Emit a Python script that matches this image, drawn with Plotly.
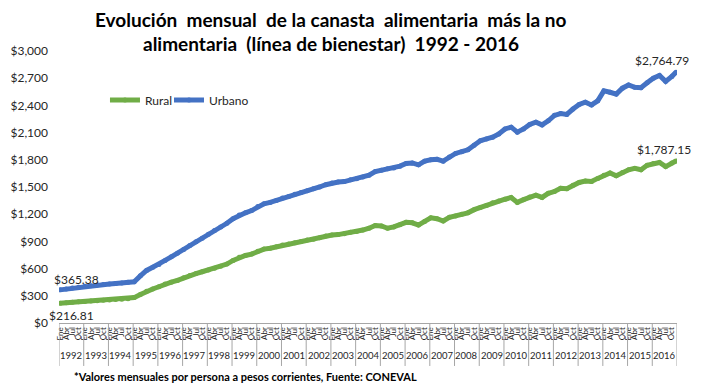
import plotly.graph_objects as go

# ---------------- data (valores trimestrales) ----------------
anios = list(range(1992, 2017))
meses = ["Ene", "Abr", "Jul", "Oct"]
mes_num = [1, 4, 7, 10]

urbano = [
    365.38, 375, 385, 395,      # 1992
    405, 412, 418, 425,         # 1993
    430, 436, 442, 450,         # 1994
    455, 520, 580, 615,         # 1995
    645, 690, 730, 770,         # 1996
    810, 855, 895, 935,         # 1997
    980, 1020, 1060, 1100,      # 1998
    1150, 1190, 1215, 1240,     # 1999
    1285, 1315, 1330, 1350,     # 2000
    1380, 1395, 1420, 1440,     # 2001
    1460, 1480, 1500, 1525,     # 2002
    1545, 1555, 1560, 1580,     # 2003
    1590, 1610, 1630, 1670,     # 2004
    1685, 1700, 1710, 1730,     # 2005
    1760, 1765, 1745, 1785,     # 2006
    1800, 1805, 1785, 1830,     # 2007
    1870, 1890, 1910, 1960,     # 2008
    2010, 2030, 2050, 2085,     # 2009
    2140, 2160, 2105, 2140,     # 2010
    2190, 2215, 2185, 2230,     # 2011
    2290, 2310, 2300, 2360,     # 2012
    2410, 2435, 2405, 2450,     # 2013
    2560, 2545, 2525, 2590,     # 2014
    2625, 2600, 2595, 2650,     # 2015
    2700, 2730, 2665, 2720,     # 2016
]
rural = [
    216.81, 222, 228, 233,      # 1992
    238, 242, 246, 250,         # 1993
    254, 258, 263, 268,         # 1994
    280, 315, 350, 375,         # 1995
    400, 430, 450, 470,         # 1996
    500, 525, 545, 565,         # 1997
    585, 605, 625, 650,         # 1998
    690, 725, 745, 760,         # 1999
    790, 815, 825, 840,         # 2000
    860, 870, 885, 900,         # 2001
    915, 925, 940, 960,         # 2002
    970, 975, 985, 1000,        # 2003
    1010, 1025, 1045, 1075,     # 2004
    1070, 1045, 1060, 1085,     # 2005
    1110, 1105, 1080, 1120,     # 2006
    1160, 1150, 1125, 1165,     # 2007
    1180, 1200, 1215, 1250,     # 2008
    1275, 1295, 1325, 1345,     # 2009
    1365, 1385, 1330, 1360,     # 2010
    1390, 1410, 1385, 1430,     # 2011
    1450, 1485, 1480, 1520,     # 2012
    1550, 1565, 1560, 1595,     # 2013
    1630, 1655, 1625, 1660,     # 2014
    1690, 1705, 1690, 1740,     # 2015
    1760, 1770, 1725, 1765,     # 2016
]
mes_final = 12            # Dic 2016
urbano_final = 2764.79
rural_final = 1787.15

titulo_1 = "Evolución  mensual  de la canasta  alimentaria  más la no"
titulo_2 = "alimentaria  (línea de bienestar)  1992 - 2016"

# ---------------- build x positions (año + mes) ----------------
x_trim = [a + (m - 0.5) / 12 for a in anios for m in mes_num]
x_all = x_trim + [anios[-1] + (mes_final - 0.5) / 12]
urb_all = urbano + [urbano_final]
rur_all = rural + [rural_final]
tick_text = [m for a in anios for m in meses]

FONT = "Lato"
VERDE = "#70AD47"
AZUL = "#4472C4"
GRIS = "#A6A6A6"
TXT = "#262626"

fig = go.Figure()
fig.add_trace(go.Scatter(x=x_all, y=rur_all, name="Rural", mode="lines+markers",
                         line=dict(color=VERDE, width=5), marker=dict(size=5, color=VERDE),
                         legend="legend"))
fig.add_trace(go.Scatter(x=x_all, y=urb_all, name="Urbano", mode="lines+markers",
                         line=dict(color=AZUL, width=5), marker=dict(size=5, color=AZUL),
                         legend="legend2"))

annots = []
# title (two lines)
annots.append(dict(x=0.44, y=1, xref="paper", yref="paper", xanchor="center", yanchor="middle",
                   yshift=32, showarrow=False, text="<b>" + titulo_1 + "</b>",
                   font=dict(family=FONT, size=19, color="#000000")))
annots.append(dict(x=0.44, y=1, xref="paper", yref="paper", xanchor="center", yanchor="middle",
                   yshift=8, showarrow=False, text="<b>" + titulo_2 + "</b>",
                   font=dict(family=FONT, size=19, color="#000000")))
# data labels
annots.append(dict(x=x_all[0], y=urb_all[0], xref="x", yref="y", text="$365.38",
                   showarrow=False, xanchor="left", yanchor="bottom", xshift=-8, yshift=1,
                   font=dict(family=FONT, size=12, color=TXT)))
annots.append(dict(x=x_all[0], y=rur_all[0], xref="x", yref="y", text="$216.81",
                   showarrow=False, xanchor="left", yanchor="top", xshift=-13, yshift=-3,
                   font=dict(family=FONT, size=12, color=TXT)))
annots.append(dict(x=x_all[-1], y=urb_all[-1], xref="x", yref="y", text="$2,764.79",
                   showarrow=False, xanchor="center", yanchor="bottom", xshift=-14, yshift=2,
                   font=dict(family=FONT, size=12, color=TXT)))
annots.append(dict(x=x_all[-1], y=rur_all[-1], xref="x", yref="y", text="$1,787.15",
                   showarrow=False, xanchor="center", yanchor="bottom", xshift=-12, yshift=2,
                   font=dict(family=FONT, size=12, color=TXT)))
# year labels
for a in anios:
    annots.append(dict(x=a + 0.5, y=0, xref="x", yref="paper", text=str(a), showarrow=False,
                       xanchor="center", yanchor="middle", yshift=-32,
                       font=dict(family=FONT, size=9.5, color=TXT)))
# footnote
annots.append(dict(x=0.021, y=0, xref="paper", yref="paper", xanchor="left", yanchor="middle",
                   yshift=-53, showarrow=False,
                   text="<b>*Valores mensuales por persona a pesos corrientes, Fuente: CONEVAL</b>",
                   font=dict(family=FONT, size=11, color="#000000")))

shapes = []
for a in anios + [anios[-1] + 1]:
    shapes.append(dict(type="line", xref="x", yref="paper", x0=a, x1=a, y0=0, y1=-0.158,
                       line=dict(color=GRIS, width=1)))

leg_common = dict(orientation="h", y=0.82, xanchor="left", yanchor="middle",
                  bgcolor="rgba(0,0,0,0)", font=dict(family=FONT, size=12, color=TXT),
                  itemwidth=30)

fig.update_layout(
    width=700, height=377,
    margin=dict(l=51, r=31, t=43, b=62),
    paper_bgcolor="white", plot_bgcolor="white",
    font=dict(family=FONT, color=TXT),
    showlegend=True,
    legend=dict(x=0.0744, **leg_common),
    legend2=dict(x=0.178, **leg_common),
    xaxis=dict(range=[anios[0], anios[-1] + 1], tickmode="array", tickvals=x_trim,
               ticktext=tick_text, tickangle=-90, tickfont=dict(family=FONT, size=8, color=TXT),
               showgrid=False, zeroline=False, showline=True, linecolor=GRIS, linewidth=1,
               ticks="", automargin=False),
    yaxis=dict(range=[0, 3000], tickmode="array", tickvals=list(range(0, 3001, 300)),
               tickformat="$,.0f", tickfont=dict(family=FONT, size=12, color=TXT),
               showgrid=False, zeroline=False, showline=False, ticks="",
               ticklabelstandoff=10, automargin=False),
    annotations=annots,
    shapes=shapes,
)

fig.write_html("out.html")
